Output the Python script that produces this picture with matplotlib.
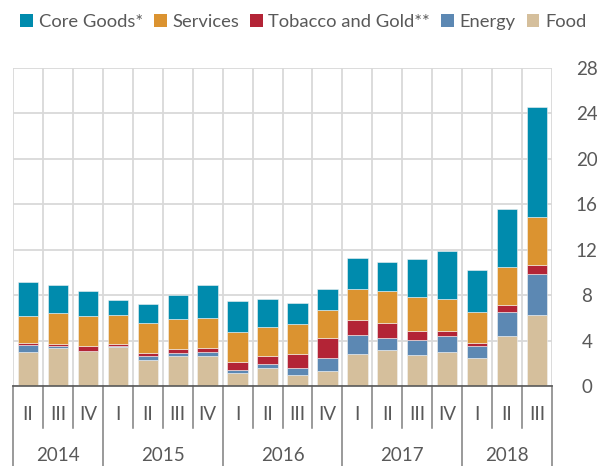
import numpy as np
import matplotlib
matplotlib.use('Agg')
import matplotlib.pyplot as plt
from matplotlib.patches import Patch

plt.rcParams['font.family'] = ['Lato', 'DejaVu Sans']

# datos
anios = ['2014', '2015', '2016', '2017', '2018']
trimestres = ['II', 'III', 'IV',
              'I', 'II', 'III', 'IV',
              'I', 'II', 'III', 'IV',
              'I', 'II', 'III', 'IV',
              'I', 'II', 'III']
n_por_anio = [3, 4, 4, 4, 3]

food = [3.00, 3.35, 3.08, 3.47, 2.26, 2.61, 2.61, 1.12, 1.58, 0.97, 1.32, 2.85, 3.17, 2.73, 2.97, 2.44, 4.38, 6.28]
energy = [0.58, 0.17, -0.15, 0.03, 0.35, 0.27, 0.42, 0.26, 0.33, 0.65, 1.18, 1.61, 1.03, 1.29, 1.41, 1.08, 2.17, 3.54]
tobacco = [0.20, 0.15, 0.44, 0.20, 0.29, 0.38, 0.32, 0.73, 0.73, 1.23, 1.73, 1.38, 1.32, 0.80, 0.44, 0.24, 0.61, 0.85]
services = [2.38, 2.73, 2.62, 2.52, 2.68, 2.61, 2.67, 2.68, 2.53, 2.58, 2.46, 2.70, 2.84, 3.05, 2.87, 2.75, 3.28, 4.20]
core = [3.00, 2.46, 2.26, 1.38, 1.64, 2.11, 2.84, 2.67, 2.46, 1.85, 1.82, 2.76, 2.53, 3.34, 4.23, 3.70, 5.13, 9.71]

series = [('Food', food, '#D5BF9C'),
          ('Energy', energy, '#5C88B3'),
          ('Tobacco and Gold**', tobacco, '#B32436'),
          ('Services', services, '#DB9330'),
          ('Core Goods*', core, '#008BAD')]

gris_txt = '#595959'
gris_grid = '#D9D9D9'

fig = plt.figure(figsize=(5.97, 4.66), dpi=100)
ax = fig.add_axes([13/597, (466-386)/466, 539/597, 318/466])

x = np.arange(len(trimestres))
pos = np.zeros(len(x))
neg = np.zeros(len(x))
for nombre, vals, col in series:
    v = np.array(vals)
    base = np.where(v >= 0, pos, neg)
    ax.bar(x, v, width=0.68, bottom=base, color=col, edgecolor='#F2F2F2', linewidth=0.4, zorder=3)
    pos = pos + np.where(v >= 0, v, 0)
    neg = neg + np.where(v < 0, v, 0)

ax.set_xlim(-0.5, len(x) - 0.5)
ax.set_ylim(0, 28)
ax.set_yticks(range(0, 29, 4))
ax.yaxis.tick_right()
ax.tick_params(axis='y', length=0, pad=25, labelsize=13.5, labelcolor=gris_txt)
for lab in ax.get_yticklabels():
    lab.set_horizontalalignment('center')
ax.set_xticks([])
ax.set_xticks(np.arange(-0.5, len(x)), minor=True)
ax.tick_params(axis='x', which='minor', length=0)
ax.grid(True, axis='y', color=gris_grid, linewidth=1.3, zorder=0)
ax.grid(True, axis='x', which='minor', color=gris_grid, linewidth=1.3, zorder=0)
for s in ['top', 'left', 'right']:
    ax.spines[s].set_visible(False)
ax.spines['bottom'].set_color(gris_txt)
ax.spines['bottom'].set_linewidth(1.2)
ax.spines['bottom'].set_zorder(4)

# etiquetas en dos niveles
tr = ax.get_xaxis_transform()
limites = np.cumsum([0] + n_por_anio) - 0.5
for b in np.arange(-0.5, len(x)):
    abajo = -0.25 if b in limites else -0.132
    ax.plot([b, b], [0, abajo], transform=tr, color='#7F7F7F', linewidth=1.1, clip_on=False)
for i, t in enumerate(trimestres):
    ax.text(i, -0.091, t, transform=tr, ha='center', va='center', fontsize=13.5, color=gris_txt)
for k, a in enumerate(anios):
    centro = (limites[k] + limites[k+1]) / 2
    ax.text(centro, -0.217, a, transform=tr, ha='center', va='center', fontsize=13.5, color=gris_txt)

handles = [Patch(facecolor=c, label=n) for n, v, c in series[::-1]]
fig.legend(handles=handles, loc='center', bbox_to_anchor=(0.508, 1 - 22/466), ncol=5, frameon=False,
           fontsize=13.2, handlelength=0.7, handleheight=0.7, handletextpad=0.3, columnspacing=0.6,
           labelcolor=gris_txt, borderaxespad=0)

fig.savefig('out.png', dpi=100)
